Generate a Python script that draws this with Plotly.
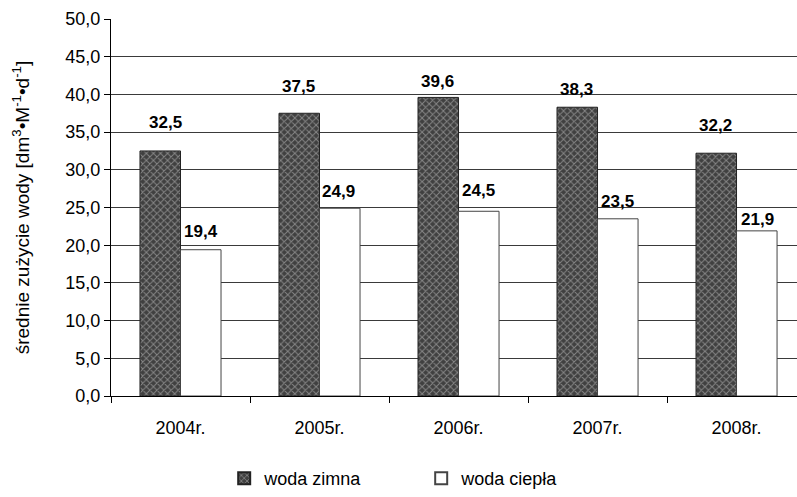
import plotly.graph_objects as go

# Average water consumption per resident per day, by year
years = ["2004r.", "2005r.", "2006r.", "2007r.", "2008r."]
cold_water = [32.5, 37.5, 39.6, 38.3, 32.2]
hot_water = [19.4, 24.9, 24.5, 23.5, 21.9]
y_ticks = [0, 5, 10, 15, 20, 25, 30, 35, 40, 45, 50]
y_tick_text = ["0,0", "5,0", "10,0", "15,0", "20,0", "25,0", "30,0", "35,0", "40,0", "45,0", "50,0"]

# pixel offsets of the value labels above each bar
cold_label_dy = [28, 27, 16, 18, 28]
cold_label_dx = [-15, -21, -21, -21, -21]
hot_label_dy = [18, 17, 21, 17, 11]
hot_label_dx = [20, 19, 20, 20, 21]

FONT = "Liberation Sans, Arial, sans-serif"


def pl(v):
    return f"{v:.1f}".replace(".", ",")


fig = go.Figure()
fig.add_trace(go.Bar(
    name="woda zimna", x=years, y=cold_water,
    marker=dict(
        color="#4a4a4a",
        line=dict(color="#222222", width=1),
        pattern=dict(shape="x", bgcolor="#404040", fgcolor="#cccccc",
                     size=5, solidity=0.35, fillmode="overlay"),
    ),
))
fig.add_trace(go.Bar(
    name="woda ciepła", x=years, y=hot_water,
    marker=dict(color="white", line=dict(color="#444444", width=1)),
))

for i, yr in enumerate(years):
    fig.add_annotation(x=yr, y=cold_water[i], text=f"<b>{pl(cold_water[i])}</b>",
                       showarrow=False, xshift=cold_label_dx[i], yshift=cold_label_dy[i],
                       yanchor="middle", font=dict(family=FONT, size=17, color="black"))
    fig.add_annotation(x=yr, y=hot_water[i], text=f"<b>{pl(hot_water[i])}</b>",
                       showarrow=False, xshift=hot_label_dx[i], yshift=hot_label_dy[i],
                       yanchor="middle", font=dict(family=FONT, size=17, color="black"))

fig.update_layout(
    width=797, height=497,
    margin=dict(l=111, r=0, t=19, b=99),
    paper_bgcolor="white", plot_bgcolor="white",
    barmode="group", bargap=0.417, bargroupgap=0,
    font=dict(family=FONT, size=18, color="black"),
    showlegend=True,
    legend=dict(orientation="h", x=0.165, xanchor="left", y=-0.22, yanchor="middle",
                entrywidth=152, entrywidthmode="pixels",
                font=dict(family=FONT, size=18), itemsizing="constant"),
)
fig.update_xaxes(
    range=[-0.5, 4.435], showline=True, linecolor="black", linewidth=1,
    ticks="outside", tickson="boundaries", ticklen=6, tickcolor="black",
    ticklabelstandoff=15,
    showgrid=False, fixedrange=True,
    tickfont=dict(family=FONT, size=18),
)
fig.update_yaxes(
    range=[0, 50], tickvals=y_ticks, ticktext=y_tick_text,
    showline=True, linecolor="black", linewidth=1,
    ticks="outside", ticklen=6, tickcolor="black",
    showgrid=True, gridcolor="#3a3a3a", gridwidth=1,
    zeroline=False,
    tickfont=dict(family=FONT, size=18),
    title=dict(text="średnie zużycie wody [dm<sup>3</sup>•M<sup>-1</sup>•d<sup>-1</sup>]",
               font=dict(family=FONT, size=19), standoff=30),
)

fig.write_html("out.html")
